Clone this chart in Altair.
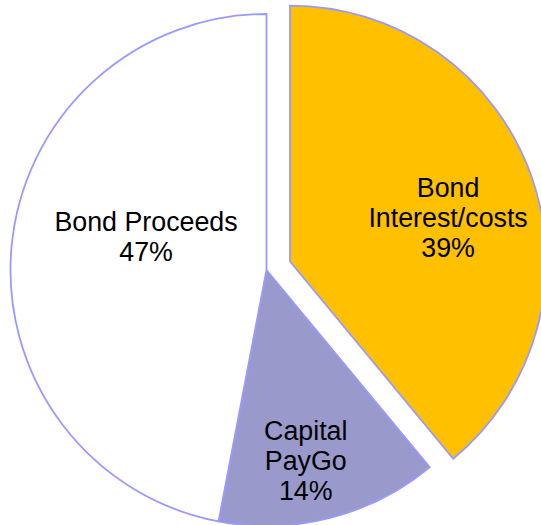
import math
import altair as alt
import pandas as pd

# ---- data -------------------------------------------------------------
categories = ["Bond Interest/costs", "Capital PayGo", "Bond Proceeds"]
label_text = ["Bond\nInterest/costs", "Capital\nPayGo", "Bond Proceeds"]
shares = [39, 14, 47]
fills = ["#FFC000", "#9999CC", "#FFFFFF"]
exploded = "Bond Interest/costs"

# ---- layout / style ---------------------------------------------------
W, H = 541, 525
CX, CY = 266.5, 270
R = 256
EXPLODE = 25
STROKE = "#9999FF"
FONT = "Liberation Sans"
FS = 26.8

total = sum(shares)
df = pd.DataFrame({
    "category": categories,
    "share": shares,
    "order": list(range(len(categories))),
    "label": [f"{t}\n{s}%" for t, s in zip(label_text, shares)],
})

# explode offset derived from the slice's mid angle
idx = categories.index(exploded)
mid_frac = (sum(shares[:idx]) + shares[idx] / 2) / total
ang = 2 * math.pi * mid_frac
EX = CX + EXPLODE * math.sin(ang)
EY = CY - EXPLODE * math.cos(ang)

base = alt.Chart(df).transform_window(
    cum="sum(share)", sort=[alt.SortField("order")], frame=[None, 0]
).transform_calculate(
    start="datum.cum - datum.share",
    mid="datum.cum - datum.share / 2",
)

theta_scale = alt.Scale(domain=[0, total])
color = alt.Color("category:N", scale=alt.Scale(domain=categories, range=fills), legend=None)


def arc_layer(cats, cx, cy):
    return base.transform_filter(
        alt.FieldOneOfPredicate(field="category", oneOf=cats)
    ).mark_arc(radius=R, stroke=STROKE, strokeWidth=1.8).encode(
        theta=alt.Theta("start:Q", scale=theta_scale),
        theta2="cum:Q",
        x=alt.value(cx),
        y=alt.value(cy),
        color=color,
    )


def text_layer(cat, cx, cy, r, dx, dy):
    return base.transform_filter(alt.datum.category == cat).mark_text(
        radius=r, dx=dx, dy=dy, font=FONT, fontSize=FS, lineBreak="\n",
        lineHeight=30, align="center", baseline="middle", color="#000000",
    ).encode(
        theta=alt.Theta("mid:Q", scale=theta_scale),
        text="label:N",
        x=alt.value(cx),
        y=alt.value(cy),
    )


others = [c for c in categories if c != exploded]
chart = alt.layer(
    arc_layer(others, CX, CY),
    arc_layer([exploded], EX, EY),
    text_layer("Bond Proceeds", CX, CY, 121, 0, -36),
    text_layer("Capital PayGo", CX, CY, 198, -10, -30),
    text_layer(exploded, EX, EY, 168, 0, -16),
).properties(
    width=W, height=H, padding=0, autosize=alt.AutoSizeParams(type="none"),
).configure_view(stroke=None)

chart.save("out.html", embed_options={"renderer": "svg", "actions": False})
